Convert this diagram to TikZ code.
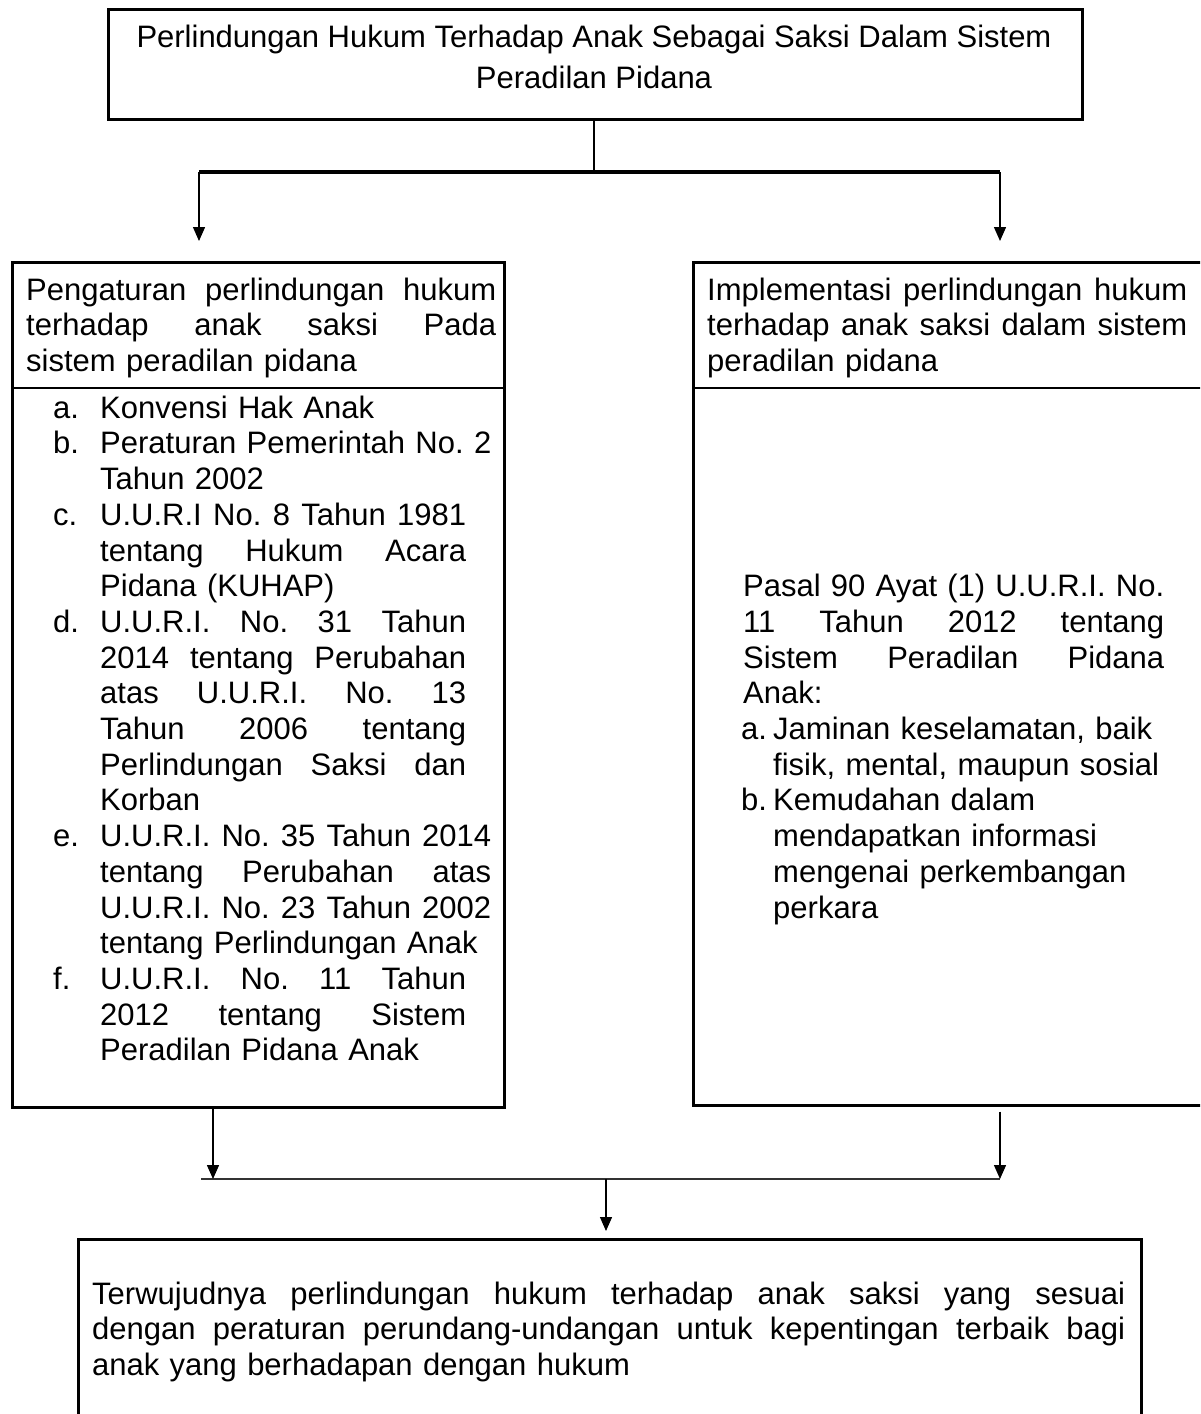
\documentclass[tikz,border=0pt]{standalone}
\usepackage{fontspec}
\setmainfont{Liberation Sans}
\usetikzlibrary{arrows.meta}
\setlength\parindent{0pt}
\frenchspacing
\newcommand\fs{\fontsize{31pt}{35.7pt}\selectfont}
\newcommand\J[2]{\leavevmode\hbox to #1pt{\spaceskip=\fontdimen2\font plus 1fil\relax\xspaceskip=\spaceskip #2}}
\newcommand\fl{\rule{0pt}{25pt}}
\begin{document}
\begin{tikzpicture}[x=1pt,y=-1pt,
  box/.style={draw, line width=2.5pt, inner sep=0pt, anchor=north west},
  txt/.style={inner sep=0pt, anchor=north west, font=\fs},
  lbl/.style={inner sep=0pt, anchor=base west, font=\fs},
  ctxt/.style={inner sep=0pt, anchor=base, font=\fs},
  conn/.style={line width=1.4pt},
  arr/.style={line width=1.4pt, -{Triangle[length=14pt,width=12pt]}},
  bar/.style={line width=3.2pt},
  barb/.style={line width=2.4pt, black!80},
  divider/.style={line width=2.5pt}]
\useasboundingbox (0,0) rectangle (1200,1414);
\clip (0,0) rectangle (1200,1414);

% boxes
\node[box, minimum width=974pt, minimum height=110pt] (top) at (107,8) {};
\node[box, minimum width=492pt, minimum height=845pt] (left) at (11,261) {};
\node[box, minimum width=540pt, minimum height=843pt] (right) at (692,261) {};
\node[box, minimum width=1063pt, minimum height=220pt] (bottom) at (77,1238) {};

% dividers
\coordinate (dv) at (0,388);
\draw[divider] (left.west |- dv) -- (left.east |- dv);
\draw[divider] (right.west |- dv) -- (right.east |- dv);

% top text
\node[ctxt] (t1) at (594,47) {Perlindungan Hukum Terhadap Anak Sebagai Saksi Dalam Sistem};
\node[ctxt] (t2) at (594,88) {Peradilan Pidana};

% left heading
\node[txt, text width=480pt] (lh) at (26,275) {\fl\J{470}{Pengaturan perlindungan hukum}\\
\J{470}{terhadap anak saksi Pada}\\
sistem peradilan pidana};

% left list labels
\node[lbl] (la) at (53,418) {a.};
\node[lbl] (lb) at (53,453.7) {b.};
\node[lbl] (lc) at (53,525.1) {c.};
\node[lbl] (ld) at (53,632.2) {d.};
\node[lbl] (le) at (53,846.4) {e.};
\node[lbl] (lf) at (53,989.2) {f.};

% left list items
\node[txt, text width=400pt] (litems) at (100,393) {\fl Konvensi Hak Anak\\
Peraturan Pemerintah No. 2\\
Tahun 2002\\
\J{366}{U.U.R.I No. 8 Tahun 1981}\\
\J{366}{tentang Hukum Acara}\\
Pidana (KUHAP)\\
\J{366}{U.U.R.I. No. 31 Tahun}\\
\J{366}{2014 tentang Perubahan}\\
\J{366}{atas U.U.R.I. No. 13}\\
\J{366}{Tahun 2006 tentang}\\
\J{366}{Perlindungan Saksi dan}\\
Korban\\
\J{391}{U.U.R.I. No. 35 Tahun 2014}\\
\J{391}{tentang Perubahan atas}\\
\J{391}{U.U.R.I. No. 23 Tahun 2002}\\
tentang Perlindungan Anak\\
\J{366}{U.U.R.I. No. 11 Tahun}\\
\J{366}{2012 tentang Sistem}\\
Peradilan Pidana Anak};

% right heading
\node[txt, text width=490pt] (rh) at (707,275) {\fl\J{480}{Implementasi perlindungan hukum}\\
\J{480}{terhadap anak saksi dalam sistem}\\
peradilan pidana};

% right body
\node[txt, text width=430pt] (rbody) at (743,571.5) {\fl\J{421}{Pasal 90 Ayat (1) U.U.R.I. No.}\\
\J{421}{11 Tahun 2012 tentang}\\
\J{421}{Sistem Peradilan Pidana}\\
Anak:};
\node[lbl] (ra) at (741,739.3) {a.};
\node[lbl] (rb) at (741,810.7) {b.};
\node[txt, text width=420pt] (ritems) at (773,714.3) {\fl Jaminan keselamatan, baik\\
fisik, mental, maupun sosial\\
Kemudahan dalam\\
mendapatkan informasi\\
mengenai perkembangan\\
perkara};

% bottom text
\node[txt, text width=1040pt] (bt) at (92,1279) {\fl\J{1033}{Terwujudnya perlindungan hukum terhadap anak saksi yang sesuai}\\
\J{1033}{dengan peraturan perundang-undangan untuk kepentingan terbaik bagi}\\
anak yang berhadapan dengan hukum};

% top connectors
\coordinate (bm) at (594,172);
\coordinate (bl) at (199,172);
\coordinate (br) at (1000,172);
\coordinate (al) at (199,241);
\coordinate (ar) at (1000,241);
\draw[conn] (top.south -| bm) -- (bm);
\draw[bar] (bl) -- (br);
\draw[arr] (bl) -- (al);
\draw[arr] (br) -- (ar);

% bottom connectors
\coordinate (jl) at (201,1179);
\coordinate (jr) at (1000,1179);
\coordinate (jlt) at (213,1179);
\coordinate (jm) at (606,1179);
\draw[barb] (jl) -- (jr);
\draw[arr] (left.south -| jlt) -- (jlt);
\draw[arr] ([yshift=-5pt]right.south -| jr) -- (jr);
\draw[arr] (jm) -- ([yshift=7pt]bottom.north -| jm);
\end{tikzpicture}
\end{document}
